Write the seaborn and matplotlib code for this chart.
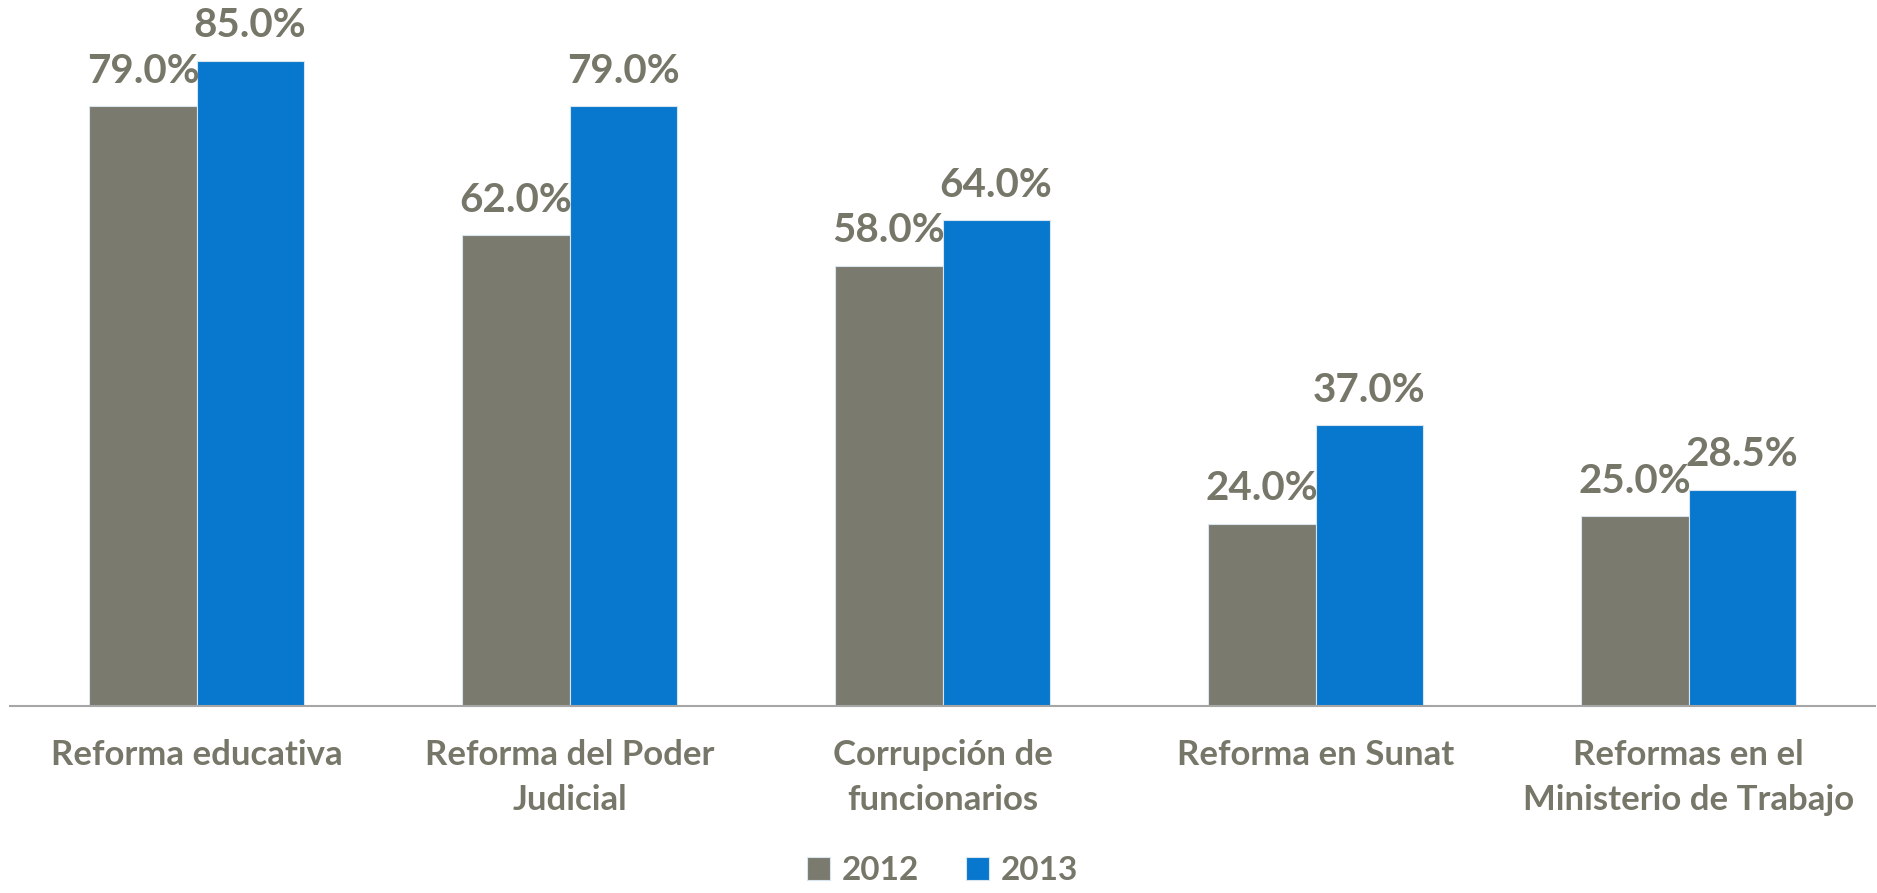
import matplotlib
matplotlib.use("Agg")
import matplotlib.pyplot as plt
import seaborn as sns
import pandas as pd

categories = ["Reforma educativa", "Reforma del Poder\nJudicial", "Corrupción de\nfuncionarios",
              "Reforma en Sunat", "Reformas en el\nMinisterio de Trabajo"]
years = ["2012", "2013"]
values_2012 = [79.0, 62.0, 58.0, 24.0, 25.0]
values_2013 = [85.0, 79.0, 64.0, 37.0, 28.5]

df = pd.DataFrame({
    "cat": categories * 2,
    "year": [years[0]] * 5 + [years[1]] * 5,
    "val": values_2012 + values_2013,
})

sns.set_theme(style="white")
plt.rcParams['font.family'] = ['Lato', 'DejaVu Sans']

GRAY = "#7A7A6E"
BLUE = "#0778CD"
TEXT = "#767669"

W, H = 1877, 893
fig = plt.figure(figsize=(W / 100, H / 100), dpi=100)
ax = fig.add_axes([10 / W, (H - 706) / H, 1865 / W, (706 - 23) / H])

sns.barplot(data=df, x="cat", y="val", hue="year", palette=[GRAY, BLUE],
            width=0.574, dodge=True, ax=ax, legend=True, saturation=1,
            edgecolor="#D8E4EE", linewidth=0.8)

ax.set_xlim(-0.5, 4.5)
ax.set_ylim(0, 90)
ax.set_xlabel("")
ax.set_ylabel("")
ax.set_yticks([])
for s in ["top", "right", "left"]:
    ax.spines[s].set_visible(False)
ax.spines["bottom"].set_color("#A6A6A6")
ax.spines["bottom"].set_linewidth(1.5)

ax.set_xticks(range(5))
ax.set_xticklabels(categories, fontsize=25, fontweight="bold", color=TEXT, linespacing=1.5)
ax.tick_params(axis="x", which="major", length=0, pad=24)
ax.set_xticks([i - 0.5 for i in range(6)], minor=True)
ax.tick_params(axis="x", which="minor", length=9, width=1.5, color="#A6A6A6", direction="out")

for container in ax.containers:
    for bar in container:
        h = bar.get_height()
        ax.annotate(f"{h:.1f}%", (bar.get_x() + bar.get_width() / 2, h),
                    xytext=(0, 12), textcoords="offset points",
                    ha="center", va="bottom", fontsize=29, fontweight="bold", color=TEXT)

leg = ax.legend(loc="lower center", bbox_to_anchor=(0.5, -0.262), ncol=2, frameon=False,
                fontsize=24, handlelength=0.7, handleheight=0.7, handletextpad=0.35,
                columnspacing=1.4, borderaxespad=0, borderpad=0)
for t in leg.get_texts():
    t.set_color(TEXT)
    t.set_fontweight("bold")

fig.savefig("out.png", dpi=100)
